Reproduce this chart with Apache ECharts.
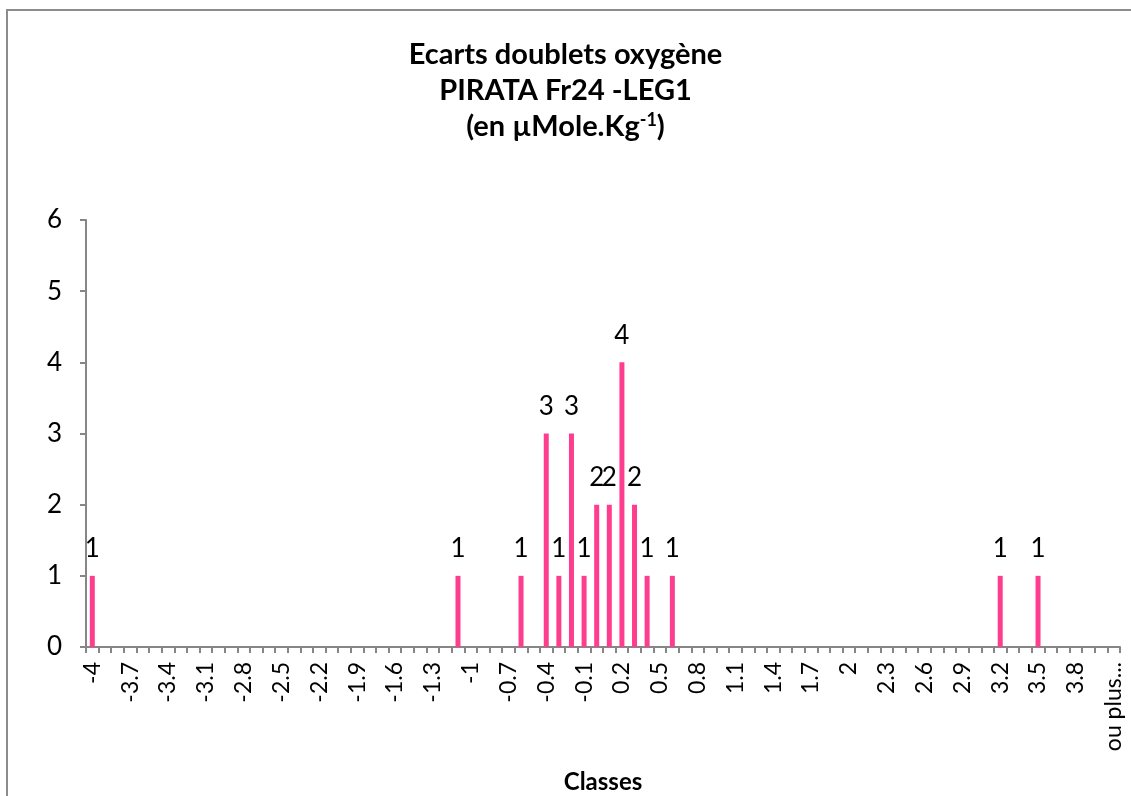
<!DOCTYPE html>
<html>
<head>
<meta charset="utf-8">
<script src="https://cdn.jsdelivr.net/npm/echarts@6/dist/echarts.min.js"></script>
<style>
html,body{margin:0;padding:0;background:#fff;}
#c{width:1131px;height:796px;}
</style>
</head>
<body>
<div id="c"></div>
<script>
var categories = ['-4','-3.9','-3.8','-3.7','-3.6','-3.5','-3.4','-3.3','-3.2','-3.1',
  '-3','-2.9','-2.8','-2.7','-2.6','-2.5','-2.4','-2.3','-2.2','-2.1',
  '-2','-1.9','-1.8','-1.7','-1.6','-1.5','-1.4','-1.3','-1.2','-1.1',
  '-1','-0.9','-0.8','-0.7','-0.6','-0.5','-0.4','-0.3','-0.2','-0.1',
  '0','0.1','0.2','0.3','0.4','0.5','0.6','0.7','0.8','0.9',
  '1','1.1','1.2','1.3','1.4','1.5','1.6','1.7','1.8','1.9',
  '2','2.1','2.2','2.3','2.4','2.5','2.6','2.7','2.8','2.9',
  '3','3.1','3.2','3.3','3.4','3.5','3.6','3.7','3.8','3.9',
  '4','ou plus...'];
var counts = [1,0,0,0,0,0,0,0,0,0,
  0,0,0,0,0,0,0,0,0,0,
  0,0,0,0,0,0,0,0,0,1,
  0,0,0,0,1,0,3,1,3,1,
  2,2,4,2,1,0,1,0,0,0,
  0,0,0,0,0,0,0,0,0,0,
  0,0,0,0,0,0,0,0,0,0,
  0,0,1,0,0,1,0,0,0,0,
  0,0];
var yTicks = [0,1,2,3,4,5,6];

var FONT = 'Lato, "Open Sans", sans-serif';
var chart = echarts.init(document.getElementById('c'), null, {renderer:'canvas'});
chart.setOption({
  animation: false,
  backgroundColor: '#fff',
  graphic: [{
    type: 'rect',
    shape: {x: 7, y: 10, width: 1200, height: 900},
    style: {fill: 'none', stroke: '#8c8c8c', lineWidth: 2},
    silent: true, z: 0
  }],
  title: {
    left: 'center',
    top: 32,
    text: '{a|Ecarts doublets oxygène}\n{a|PIRATA Fr24 -LEG1}\n{a|(en µMole.Kg}{s|-1}{a|)}',
    textStyle: {
      rich: {
        a: {fontFamily: FONT, fontWeight: 'bold', fontSize: 29, color: '#000', lineHeight: 36},
        s: {fontFamily: FONT, fontWeight: 'bold', fontSize: 18, color: '#000', lineHeight: 36, verticalAlign: 'top', padding: [2,0,0,0]}
      }
    }
  },
  grid: {left: 86, right: 11, top: 220, bottom: 149, containLabel: false, outerBoundsMode: 'none'},
  xAxis: {
    type: 'category',
    data: categories,
    name: 'Classes',
    nameLocation: 'middle',
    nameGap: 123,
    nameTextStyle: {fontFamily: FONT, fontWeight: 'bold', fontSize: 24, color: '#000'},
    axisLine: {lineStyle: {color: '#868686', width: 2}},
    axisTick: {show: true, interval: 0, length: 6, lineStyle: {color: '#868686', width: 2}},
    axisLabel: {interval: 2, rotate: 90, fontFamily: FONT, fontSize: 23, color: '#000', margin: 15},
    splitLine: {show: false}
  },
  yAxis: {
    type: 'value',
    min: yTicks[0],
    max: yTicks[yTicks.length-1],
    interval: 1,
    axisLine: {show: true, lineStyle: {color: '#868686', width: 2}},
    axisTick: {show: true, length: 6, lineStyle: {color: '#868686', width: 2}},
    axisLabel: {fontFamily: FONT, fontSize: 26, color: '#000', margin: 24},
    splitLine: {show: false}
  },
  series: [{
    type: 'bar',
    data: counts,
    barWidth: 5,
    itemStyle: {color: '#FF3D8E'},
    label: {
      show: true,
      position: 'top',
      distance: 14,
      fontFamily: FONT,
      fontSize: 26,
      color: '#000',
      formatter: function(p){ return p.value ? String(p.value) : ''; }
    }
  }]
});
</script>
</body>
</html>
